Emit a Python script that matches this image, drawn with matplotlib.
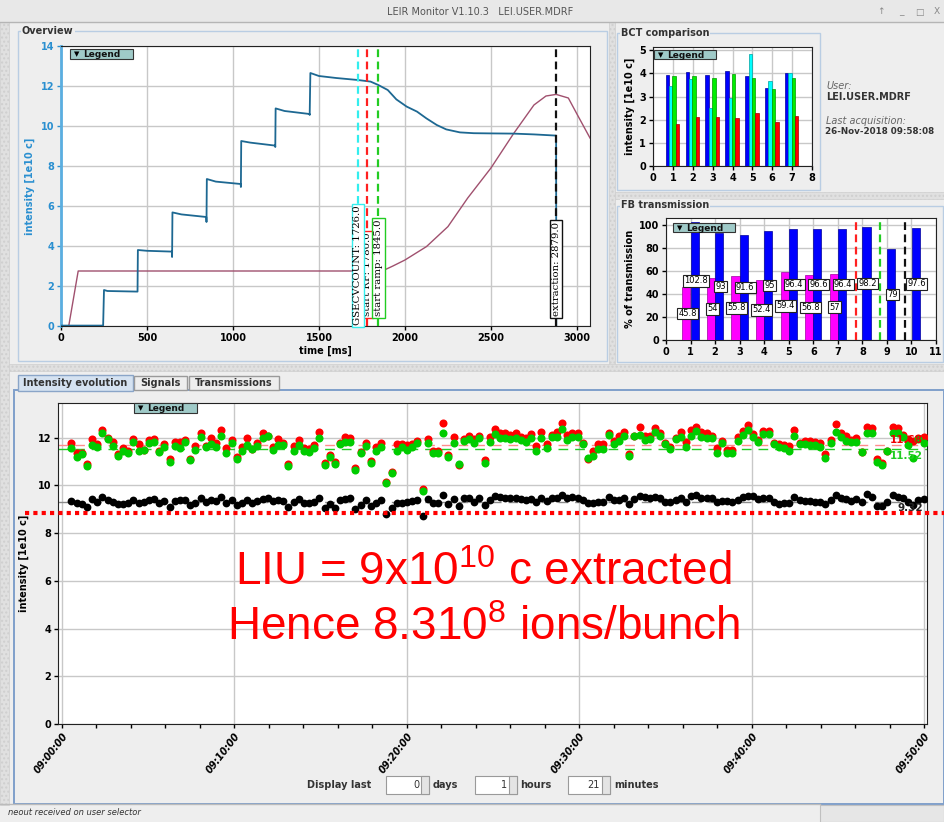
import matplotlib
matplotlib.use('Agg')
import matplotlib.pyplot as plt
import numpy as np
from matplotlib.patches import Rectangle
from matplotlib.ticker import MultipleLocator

plt.rcParams['font.family'] = ['DejaVu Sans']
plt.rcParams['mathtext.fontset'] = 'custom'
plt.rcParams['mathtext.rm'] = 'Liberation Sans'
plt.rcParams['mathtext.it'] = 'Liberation Sans:italic'
plt.rcParams['mathtext.bf'] = 'Liberation Sans:bold'

# ------------------------------------------------------------------ data
# Overview: measured intensity trace [1e10 c] vs cycle time [ms]
ov_time = [0, 245, 250, 270, 445, 447, 500, 645, 646, 648, 700, 845, 846, 848, 900,
           1045, 1046, 1048, 1100, 1245, 1246, 1248, 1300, 1445, 1446, 1450, 1500, 1600,
           1726, 1800, 1845, 1900, 1950, 2010, 2070, 2125, 2185, 2240, 2320, 2400, 2500,
           2630, 2750, 2879, 2880]
ov_intensity = [0.02, 0.02, 1.8, 1.75, 1.72, 3.8, 3.76, 3.72, 3.45, 5.68, 5.58, 5.45, 5.2,
                7.35, 7.22, 7.1, 6.95, 9.25, 9.17, 9.02, 8.95, 10.88, 10.75, 10.6, 10.55,
                12.65, 12.5, 12.4, 12.3, 12.22, 12.05, 11.8, 11.33, 10.97, 10.72, 10.38,
                10.05, 9.83, 9.68, 9.64, 9.63, 9.62, 9.58, 9.52, 0.0]
# Overview: magnetic cycle (scaled)
ramp_time = [0, 45, 100, 1845, 1880, 1930, 2000, 2125, 2250, 2365, 2500, 2630, 2750,
             2820, 2879, 2950, 3000, 3076]
ramp_value = [0, 0, 2.75, 2.75, 2.8, 3.0, 3.3, 3.97, 4.97, 6.4, 7.9, 9.6, 11.05, 11.5,
              11.58, 11.4, 10.6, 9.4]
# Overview: event markers
event_names = ['start RF', 'GSECVCOUNT', 'start ramp', 'extraction']
event_times = [1780.0, 1726.0, 1845.0, 2879.0]
event_colors = ['#ff2020', '#33eeee', '#22cc22', '#111111']

# BCT comparison
bct_bunch = [1, 2, 3, 4, 5, 6, 7]
bct_blue = [3.92, 4.05, 3.92, 4.10, 3.90, 3.37, 4.00]
bct_cyan = [3.45, 3.75, 2.50, 2.93, 4.83, 3.67, 4.00]
bct_green = [3.88, 3.88, 3.82, 3.97, 3.82, 3.32, 3.80]
bct_red = [1.80, 2.10, 2.10, 2.07, 2.27, 1.90, 2.15]

# FB transmission
fb_mag_x = [1, 2, 3, 4, 5, 6, 7]
fb_mag = [45.8, 54, 55.8, 52.4, 59.4, 56.8, 57]
fb_blue_x = [1, 2, 3, 4, 5, 6, 7, 8, 9, 10]
fb_blue = [102.8, 93, 91.6, 95, 96.4, 96.6, 96.4, 98.2, 79, 97.6]
fb_marks = [7.73, 8.72, 9.74]
fb_mark_colors = ['#ff2020', '#22cc22', '#111111']

# Intensity evolution (one point every ~18 s from 09:00:33)
t_start, t_step = 0.55, 0.2995   # minutes after 09:00:00
ev_red = [11.76, 11.34, 11.37, 10.9, 11.93, 11.72, 12.32, 12.0, 11.83, 11.3, 11.58, 11.45,
          11.94, 11.73, 11.48, 11.9, 11.93, 11.44, 11.73, 11.12, 11.83, 11.83, 11.9, 11.12,
          11.66, 12.18, 11.66, 11.97, 11.76, 12.32, 11.58, 11.9, 11.2,
          11.62, 12.0, 11.54, 11.79, 12.21, 12.08, 11.62, 11.93, 11.79, 10.9, 11.65, 11.9,
          11.55, 11.51, 11.69, 12.25, 10.92, 11.27, 10.99, 11.76, 12.04, 11.97, 10.71, 11.41,
          11.79, 11.03, 11.59, 11.76, 10.13, 10.55, 11.73, 11.73, 11.69, 11.73, 11.87, 9.83,
          11.93, 11.44, 11.44, 12.6, 11.27, 12.01, 10.85, 11.94, 12.08, 11.93, 12.07,
          11.06, 12.04, 12.36, 12.18, 12.18, 12.11, 12.21, 12.04, 11.97, 12.15,
          11.65, 12.22, 11.72, 12.11, 12.25, 12.6, 12.11, 12.18, 12.18, 11.76,
          11.10, 11.44, 11.73, 11.72, 12.18, 11.86, 12.07, 12.25, 11.30, 12.07,
          12.46, 12.07, 12.08, 12.42, 12.18, 11.76, 11.62, 11.97, 12.25, 11.80,
          12.32, 12.46, 12.22, 12.21, 12.08, 11.55, 11.86, 11.48, 11.48, 12.04,
          12.29, 12.53, 12.14, 11.90, 12.28, 12.28, 11.76, 11.72, 11.69, 11.65,
          12.32, 11.76, 11.86, 11.86, 11.83, 11.79, 11.30, 11.90, 12.56, 12.18,
          12.07, 11.90, 12.0, 11.38, 12.43, 12.39, 11.10, 10.92, 11.44, 12.43,
          12.39, 12.11, 11.94, 11.86, 11.97, 12.04]
ev_green = [11.55, 11.17, 11.3, 10.8, 11.7, 11.6, 12.18, 11.93, 11.65, 11.23, 11.44, 11.37,
            11.83, 11.45, 11.48, 11.79, 11.83, 11.4, 11.6, 10.98, 11.66, 11.55, 11.8, 11.06,
            11.48, 12.01, 11.6, 11.73, 11.6, 12.07, 11.37, 11.76, 11.1,
            11.45, 11.69, 11.51, 11.65, 12.0, 12.08, 11.48, 11.69, 11.69, 10.83, 11.44, 11.69,
            11.44, 11.41, 11.55, 12.0, 10.85, 11.2, 10.9, 11.73, 11.83, 11.83, 10.64, 11.34,
            11.65, 10.95, 11.45, 11.62, 10.08, 10.5, 11.45, 11.59, 11.48, 11.59, 11.76, 9.78,
            11.79, 11.37, 11.37, 12.21, 11.2, 11.79, 10.9, 11.87, 11.93, 11.79, 11.97,
            10.95, 11.83, 12.14, 12.0, 11.97, 11.94, 12.0, 11.90, 11.83, 11.97,
            11.44, 12.0, 11.55, 12.04, 12.04, 12.36, 11.90, 12.04, 12.04, 11.72,
            11.13, 11.24, 11.52, 11.52, 12.11, 11.72, 11.86, 12.07, 11.24, 12.07,
            12.11, 11.90, 11.94, 12.22, 12.08, 11.72, 11.52, 11.94, 12.04, 11.62,
            12.08, 12.28, 12.01, 11.97, 12.0, 11.34, 11.76, 11.34, 11.34, 11.86,
            12.11, 12.32, 12.04, 11.80, 12.14, 12.14, 11.72, 11.62, 11.55, 11.44,
            12.08, 11.72, 11.72, 11.69, 11.69, 11.62, 11.16, 11.76, 12.25, 12.04,
            11.86, 11.80, 11.83, 11.38, 12.18, 12.18, 10.99, 10.85, 11.44, 12.21,
            12.18, 12.04, 11.69, 11.13, 11.94, 11.76]
ev_black = [9.36, 9.27, 9.23, 9.08, 9.44, 9.3, 9.52, 9.4, 9.31, 9.22, 9.22, 9.24, 9.38, 9.27,
            9.3, 9.38, 9.41, 9.28, 9.36, 9.1, 9.36, 9.38, 9.38, 9.17, 9.27, 9.45, 9.31, 9.38,
            9.34, 9.52, 9.28, 9.38, 9.17,
            9.24, 9.38, 9.28, 9.36, 9.43, 9.45, 9.34, 9.38, 9.34, 9.08, 9.31, 9.41, 9.24, 9.27,
            9.31, 9.45, 9.03, 9.22, 9.06, 9.38, 9.43, 9.45, 9.01, 9.17, 9.38, 9.15, 9.24, 9.38,
            8.8, 9.03, 9.28, 9.28, 9.31, 9.34, 9.38, 8.73, 9.41, 9.24, 9.24, 9.59, 9.22, 9.41,
            9.15, 9.45, 9.45, 9.31, 9.45,
            9.17, 9.38, 9.55, 9.50, 9.45, 9.45, 9.48, 9.41, 9.38, 9.41,
            9.31, 9.45, 9.34, 9.48, 9.45, 9.59, 9.45, 9.50, 9.45, 9.38,
            9.24, 9.24, 9.31, 9.31, 9.52, 9.38, 9.38, 9.48, 9.20, 9.41,
            9.55, 9.50, 9.48, 9.52, 9.45, 9.31, 9.29, 9.38, 9.45, 9.31,
            9.55, 9.59, 9.45, 9.48, 9.45, 9.31, 9.34, 9.34, 9.29, 9.38,
            9.50, 9.55, 9.55, 9.41, 9.48, 9.48, 9.31, 9.20, 9.24, 9.27,
            9.50, 9.38, 9.34, 9.34, 9.31, 9.31, 9.20, 9.38, 9.59, 9.45,
            9.43, 9.34, 9.41, 9.29, 9.62, 9.52, 9.15, 9.13, 9.31, 9.59,
            9.52, 9.45, 9.29, 9.17, 9.38, 9.43]
ev_means = [11.68, 11.52, 9.32]
liu_level = 8.83
time_ticks = [0, 10, 20, 30, 40, 50]
time_labels = ['09:00:00', '09:10:00', '09:20:00', '09:30:00', '09:40:00', '09:50:00']

# ------------------------------------------------------------------ figure
W, H = 944, 822
fig = plt.figure(figsize=(W / 100, H / 100), dpi=100)
fig.patch.set_facecolor('#eeeeee')


def frac(l, t, r, b):
    return [l / W, 1 - b / H, (r - l) / W, (b - t) / H]


bg = fig.add_axes([0, 0, 1, 1], zorder=-10)
bg.set_xlim(0, W); bg.set_ylim(H, 0); bg.axis('off')
ov = fig.add_axes([0, 0, 1, 1], zorder=5)
ov.set_xlim(0, W); ov.set_ylim(H, 0); ov.axis('off')


def rbox(a, l, t, r, b, fc='none', ec='#b9cde3', lw=1.0, z=1, **kw):
    a.add_patch(Rectangle((l, t), r - l, b - t, facecolor=fc, edgecolor=ec,
                          linewidth=lw, zorder=z, **kw))


def legend_button(l, t, r, b):
    rbox(ov, l, t, r, b, fc='#9fcac8', ec='#333333', lw=0.8, z=6)
    ov.text(l + 4, (t + b) / 2 + 0.5, '\u25BC', fontsize=5, va='center', ha='left', zorder=7)
    ov.text(l + 13, (t + b) / 2 + 0.5, 'Legend', fontsize=6.5, fontweight='bold',
            va='center', ha='left', zorder=7, color='#111')


# window chrome
rbox(bg, 0, 0, W, 22, fc='#e8e8e8', ec='none')
bg.plot([0, W], [22, 22], color='#b5b5b5', lw=1)
bg.text(480, 12, 'LEIR Monitor V1.10.3   LEI.USER.MDRF', ha='center', va='center',
        fontsize=7, color='#555555')
for xx, s in zip([881, 901, 919, 937], ['\u2191', '_', '\u25A1', 'X']):
    bg.text(xx, 12, s, ha='center', va='center', fontsize=6.5, color='#888888')
# splitters
rbox(bg, 0, 22, 9, 805, fc='#e0e0e0', ec='#cfcfcf', lw=0.5, hatch='....')
rbox(bg, 609, 22, 615, 365, fc='#e0e0e0', ec='#cfcfcf', lw=0.5, hatch='....')
rbox(bg, 9, 364, W, 371, fc='#e0e0e0', ec='#cfcfcf', lw=0.5, hatch='....')
rbox(bg, 615, 192, W, 199, fc='#e0e0e0', ec='#cfcfcf', lw=0.5, hatch='....')

# panel frames and titles
rbox(bg, 18, 31, 607, 361)
rbox(bg, 617, 33, 820, 190)
rbox(bg, 617, 206, W - 1, 362)
for xx, yy, s in [(22, 31, 'Overview'), (621, 33, 'BCT comparison'), (621, 205, 'FB transmission')]:
    bg.text(xx, yy, s, ha='left', va='center', fontsize=7, fontweight='bold', color='#333333',
            bbox=dict(fc='#eeeeee', ec='none', pad=0.6), zorder=3)

# tabs + bottom panel
rbox(bg, 14, 390, W, 804, fc='#eeeeee', ec='#7f9fcb', lw=1.4)
rbox(bg, 18, 375, 133, 391, fc='#d5e2f1', ec='#8aa5c8', lw=1, z=3)
rbox(bg, 134, 376, 187, 390, fc='#eeeeee', ec='#9a9a9a', lw=1, z=3)
rbox(bg, 189, 376, 279, 390, fc='#eeeeee', ec='#9a9a9a', lw=1, z=3)
for xx, s in [(75, 'Intensity evolution'), (160, 'Signals'), (234, 'Transmissions')]:
    bg.text(xx, 383, s, ha='center', va='center', fontsize=7, fontweight='bold',
            color='#333333', zorder=4)

# display-last controls
bg.text(339, 785, 'Display last', ha='center', va='center', fontsize=7, fontweight='bold',
        color='#333333')
for (l, r, val, unit, ux) in [(386, 429, '0', 'days', 433), (475, 517, '1', 'hours', 520),
                              (568, 610, '21', 'minutes', 614)]:
    rbox(bg, l, 776, r, 794, fc='white', ec='#9a9a9a', lw=0.8, z=2)
    rbox(bg, r - 8, 776, r, 794, fc='#e4e4e4', ec='#9a9a9a', lw=0.8, z=3)
    bg.text(r - 10, 785, val, ha='right', va='center', fontsize=7, color='#333', zorder=4)
    bg.text(ux, 785, unit, ha='left', va='center', fontsize=7, fontweight='bold', color='#333')

# status bar
bg.plot([0, 820], [804, 804], color='#bbbbbb', lw=1)
rbox(bg, 820, 805, W, 822, fc='#e6e6e6', ec='#c0c0c0', lw=0.8)
bg.text(8, 812, 'neout received on user selector', ha='left', va='center', fontsize=6,
        style='italic', color='#333333')

# right info text
ov.text(826, 86, 'User:', fontsize=7, style='italic', color='#666666', va='center')
ov.text(826, 97, 'LEI.USER.MDRF', fontsize=7, fontweight='bold', color='#333333', va='center')
ov.text(826, 121, 'Last acquisition:', fontsize=7, style='italic', color='#666666', va='center')
ov.text(825, 132, '26-Nov-2018 09:58:08', fontsize=6.3, fontweight='bold', color='#333333',
        va='center')


def style_axes(ax, labelsize=7):
    ax.set_facecolor('white')
    ax.grid(True, color='#c8c8c8', lw=1)
    ax.set_axisbelow(True)
    ax.tick_params(labelsize=labelsize, length=3, width=1, pad=2)
    for lbl in ax.get_xticklabels() + ax.get_yticklabels():
        lbl.set_fontweight('bold')
    for sp in ax.spines.values():
        sp.set_color('#222222')


# ------------------------------------------------------------------ overview
ax1 = fig.add_axes(frac(61, 46, 590, 326))
ax1.plot(ramp_time, ramp_value, color='#a0506e', lw=1.0, zorder=3)
ax1.plot(ov_time, ov_intensity, color='#1d6892', lw=1.3, zorder=4)
ax1.set_xlim(0, 3076)
ax1.set_ylim(0, 14)
ax1.set_xticks([0, 500, 1000, 1500, 2000, 2500, 3000])
ax1.set_yticks(range(0, 15, 2))
style_axes(ax1)
ax1.spines['left'].set_color('#5aaee0')
ax1.spines['left'].set_linewidth(2)
ax1.tick_params(axis='y', colors='#2a8fd0')
ax1.set_xlabel('time [ms]', fontsize=7, fontweight='bold', labelpad=2)
ax1.set_ylabel('intensity [1e10 c]', fontsize=7, fontweight='bold', color='#2a8fd0', labelpad=4)
label_bottoms = [0.5, 0.05, 0.5, 0.5]
for k, (name, tv, col, yb) in enumerate(zip(event_names, event_times, event_colors, label_bottoms)):
    ax1.axvline(tv, color=col, lw=1.6, linestyle=(0, (3.5, 2.0)), zorder=5)
    ax1.text(tv, yb, f'{name}: {tv:.1f}', rotation=90, ha='center', va='bottom',
             fontsize=7.3, family='DejaVu Serif', zorder=6 + k,
             bbox=dict(boxstyle='square,pad=0.18', fc='white', ec=col, lw=1))
legend_button(70, 49, 133, 59)

# ------------------------------------------------------------------ BCT comparison
ax2 = fig.add_axes(frac(653, 47, 812, 166))
xb = np.array(bct_bunch)
wb = 0.17
for off, vals, col, ec in [(-0.275, bct_blue, '#0000ff', '#00009a'),
                           (-0.105, bct_cyan, '#00ffff', '#00a0a0'),
                           (0.065, bct_green, '#00ee00', '#009a00'),
                           (0.235, bct_red, '#ff0000', '#a00000')]:
    ax2.bar(xb + off, vals, width=wb, color=col, edgecolor=ec, linewidth=0.5, zorder=3)
ax2.set_xlim(0, 8)
ax2.set_ylim(0, 5.14)
ax2.set_xticks(range(0, 9))
ax2.set_yticks(range(0, 6))
style_axes(ax2)
ax2.set_ylabel('intensity [1e10 c]', fontsize=7, fontweight='bold', labelpad=3)
legend_button(654, 50, 716, 59)

# ------------------------------------------------------------------ FB transmission
ax3 = fig.add_axes(frac(666, 218, 936, 340))
ax3.bar(np.array(fb_mag_x) - 0.17, fb_mag, width=0.33, color='#ff00ff', edgecolor='#a000a0',
        linewidth=0.5, zorder=3)
ax3.bar(np.array(fb_blue_x) + 0.17, fb_blue, width=0.33, color='#0000ff', edgecolor='#00009a',
        linewidth=0.5, zorder=3)
for xm, col in zip(fb_marks, fb_mark_colors):
    ax3.axvline(xm, color=col, lw=1.6, linestyle=(0, (3.5, 2.0)), zorder=4)
for xv, v in zip(fb_mag_x, fb_mag):
    ax3.text(xv - 0.12, v / 2, f'{v:g}', ha='center', va='center', fontsize=6, zorder=6,
             bbox=dict(boxstyle='square,pad=0.15', fc='white', ec='#222', lw=0.8))
for xv, v in zip(fb_blue_x, fb_blue):
    ax3.text(xv + 0.22, v / 2, f'{v:g}', ha='center', va='center', fontsize=6, zorder=6,
             bbox=dict(boxstyle='square,pad=0.15', fc='white', ec='#222', lw=0.8))
ax3.set_xlim(0, 11)
ax3.set_ylim(0, 106)
ax3.set_xticks(range(0, 12))
ax3.set_yticks(range(0, 101, 20))
style_axes(ax3)
ax3.set_ylabel('% of transmission', fontsize=7, fontweight='bold', labelpad=3)
legend_button(673, 223, 735, 232)

# ------------------------------------------------------------------ intensity evolution
ax4 = fig.add_axes(frac(58, 403, 927, 724))
tt = t_start + t_step * np.arange(len(ev_red))
for m, col in zip(ev_means, ['#ff8c8c', '#22cc22', '#8a8a8a']):
    ax4.axhline(m, color=col, lw=1, linestyle=(0, (7, 5)), zorder=2)
ax4.plot(tt, ev_red, 'o', color='#ff0000', ms=5.8, mew=0, zorder=3)
ax4.plot(tt, ev_green, 'o', color='#00cc00', ms=5.8, mew=0, zorder=4)
ax4.plot(tt, ev_black, 'o', color='#000000', ms=5.6, mew=0, zorder=4)
ax4.set_xlim(-0.232, 50.17)
ax4.set_ylim(0, 13.45)
ax4.set_xticks(time_ticks)
ax4.set_xticklabels(time_labels)
ax4.xaxis.set_minor_locator(MultipleLocator(2))
ax4.set_yticks(range(0, 13, 2))
style_axes(ax4)
ax4.tick_params(axis='x', which='minor', length=3, width=1)
for lbl in ax4.get_xticklabels():
    lbl.set_rotation(52)
    lbl.set_ha('right')
    lbl.set_va('top')
    lbl.set_rotation_mode('anchor')
    lbl.set_style('italic')
    lbl.set_fontsize(7)
ax4.set_ylabel('intensity [1e10 c]', fontsize=7, fontweight='bold', labelpad=6)
ytr = ax4.get_yaxis_transform()
ax4.text(0.995, ev_means[0] + 0.02, f'{ev_means[0]:.2f}', transform=ytr, ha='right',
         va='bottom', fontsize=7.5, fontweight='bold', color='#ee0000', zorder=6)
ax4.text(0.995, ev_means[1] - 0.1, f'{ev_means[1]:.2f}', transform=ytr, ha='right',
         va='top', fontsize=7.5, fontweight='bold', color='#22cc22', zorder=6)
ax4.text(0.995, ev_means[2] - 0.08, f'{ev_means[2]:.2f}', transform=ytr, ha='right',
         va='top', fontsize=7.5, fontweight='bold', color='#222222', zorder=6)
ax4.plot([-0.038, 1.02], [liu_level, liu_level], transform=ytr, color='#ff0000', lw=3,
         linestyle=(0, (1, 1)), clip_on=False, zorder=7)
ax4.text(0.49, 6.33, 'LIU = 9x10$^{10}$ c extracted', transform=ytr, ha='center',
         va='center', fontsize=33, family='Liberation Sans', color='#ff0000', zorder=8)
ax4.text(0.49, 4.03, 'Hence 8.310$^{8}$ ions/bunch', transform=ytr, ha='center',
         va='center', fontsize=33, family='Liberation Sans', color='#ff0000', zorder=8)
legend_button(134, 403, 197, 413)

fig.savefig('out.png', dpi=100, facecolor=fig.get_facecolor())
